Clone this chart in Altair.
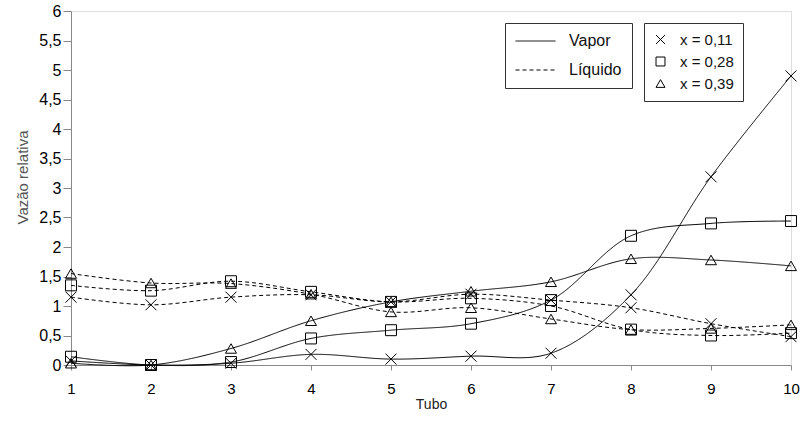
import altair as alt
import pandas as pd

tubos = [1, 2, 3, 4, 5, 6, 7, 8, 9, 10]
composicoes = ["x = 0,11", "x = 0,28", "x = 0,39"]
fases = ["Vapor", "Líquido"]
y_ticks = [0, 0.5, 1, 1.5, 2, 2.5, 3, 3.5, 4, 4.5, 5, 5.5, 6]

vapor_011 = [0.07, 0.0, 0.03, 0.18, 0.10, 0.15, 0.20, 1.19, 3.19, 4.90]
vapor_028 = [0.14, 0.0, 0.05, 0.45, 0.59, 0.70, 1.10, 2.19, 2.40, 2.44]
vapor_039 = [0.03, 0.0, 0.28, 0.75, 1.07, 1.25, 1.41, 1.80, 1.78, 1.68]

liquido_011 = [1.15, 1.02, 1.15, 1.19, 1.07, 1.20, 1.10, 0.97, 0.70, 0.48]
liquido_028 = [1.35, 1.26, 1.42, 1.24, 1.07, 1.13, 1.00, 0.60, 0.50, 0.54]
liquido_039 = [1.55, 1.39, 1.38, 1.20, 0.90, 0.97, 0.78, 0.60, 0.62, 0.68]

series = {
    ("Vapor", "x = 0,11"): vapor_011,
    ("Vapor", "x = 0,28"): vapor_028,
    ("Vapor", "x = 0,39"): vapor_039,
    ("Líquido", "x = 0,11"): liquido_011,
    ("Líquido", "x = 0,28"): liquido_028,
    ("Líquido", "x = 0,39"): liquido_039,
}

rows = []
for (fase, comp), vals in series.items():
    for t, v in zip(tubos, vals):
        rows.append({"tubo": t, "valor": v, "fase": fase, "comp": comp})
df = pd.DataFrame(rows)

FONT = "Liberation Sans"
cross_path = "M-1,-1L1,1M-1,1L1,-1"

x_enc = alt.X(
    "tubo:Q",
    scale=alt.Scale(domain=[1, 10], nice=False, zero=False),
    axis=alt.Axis(
        values=tubos, format="d", title="Tubo", grid=False,
        tickSize=5, labelFontSize=15, labelPadding=11, labelFlush=False,
        labelOverlap=False,
        titleFontSize=14, titleFontWeight="normal", titlePadding=1,
        titleColor="#222",
    ),
)
y_enc = alt.Y(
    "valor:Q",
    scale=alt.Scale(domain=[0, 6], nice=False),
    axis=alt.Axis(
        values=y_ticks, tickCount=13,
        labelExpr="replace(format(datum.value, '.1~f'), '.', ',')",
        title="Vazão relativa", grid=False, tickSize=8,
        labelFontSize=16, labelPadding=2, labelOverlap=False,
        titleFontSize=15, titleFontWeight="normal", titleColor="#555",
        titlePadding=8, titleY=166,
    ),
)

lines = alt.Chart(df).mark_line(
    interpolate="catmull-rom", color="black", strokeWidth=1
).encode(
    x=x_enc,
    y=y_enc,
    detail="comp:N",
    strokeDash=alt.StrokeDash(
        "fase:N",
        scale=alt.Scale(domain=fases, range=[[1, 0], [4, 3]]),
        legend=alt.Legend(
            title=None, orient="none", legendX=434, legendY=12,
            strokeColor="#333", fillColor="white", padding=10,
            symbolType="stroke", symbolSize=1600, symbolStrokeWidth=1,
            symbolStrokeColor="black", labelFontSize=16, labelFont=FONT,
            labelColor="#111", labelOffset=13, rowPadding=13, clipHeight=16,
            labelExpr="datum.label + '\u00a0'",
        ),
    ),
)

points = alt.Chart(df).mark_point(
    filled=False, color="black", strokeWidth=1, size=120, opacity=1
).encode(
    x=x_enc,
    y=y_enc,
    shape=alt.Shape(
        "comp:N",
        scale=alt.Scale(domain=composicoes, range=[cross_path, "square", "triangle-up"]),
        legend=alt.Legend(
            title=None, orient="none", legendX=573, legendY=12,
            strokeColor="#333", fillColor="white", padding=9,
            symbolSize=80, symbolStrokeWidth=1, symbolStrokeColor="black",
            symbolFillColor="transparent",
            labelFontSize=15, labelFont=FONT, labelColor="#111",
            labelOffset=12, rowPadding=6, clipHeight=15,
            labelExpr="datum.label + '\u00a0\u00a0\u00a0\u00a0\u00a0\u00a0\u00a0\u00a0\u00a0\u00a0\u00a0\u00a0'",
        ),
    ),
)

chart = alt.layer(lines, points).properties(
    width=720, height=354,
    autosize=alt.AutoSizeParams(type="none"),
    padding={"left": 71, "top": 11, "right": 11, "bottom": 62},
).configure_view(
    stroke="#555", strokeWidth=1.5
).configure_axis(
    labelFont=FONT, titleFont=FONT, labelColor="#111",
    domainColor="black", domainWidth=1.5, tickColor="black", tickWidth=1,
).configure(background="white")

chart.save("out.html", embed_options={"renderer": "svg", "actions": False})
